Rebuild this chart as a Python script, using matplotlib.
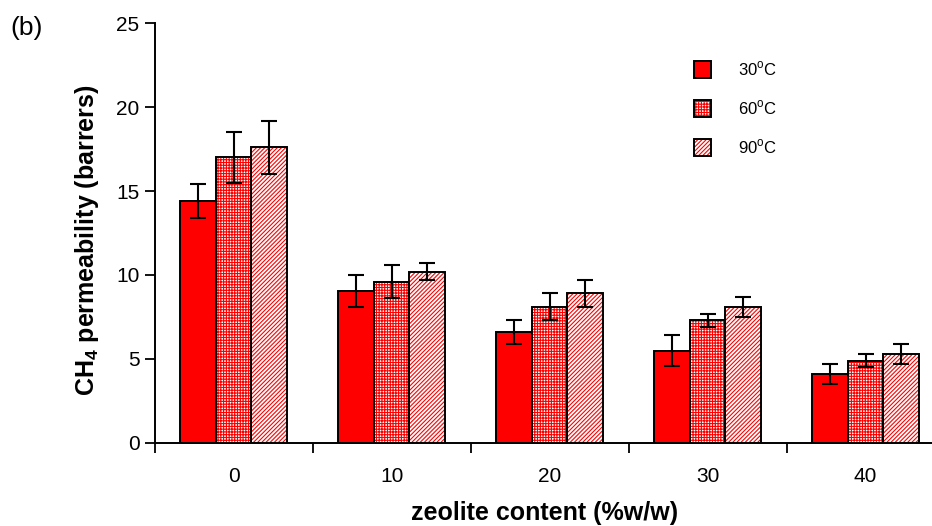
import numpy as np
import matplotlib
matplotlib.use("Agg")
import matplotlib.pyplot as plt
from matplotlib.patches import Patch
from matplotlib.legend_handler import HandlerTuple

plt.rcParams["font.family"] = ["Liberation Sans", "DejaVu Sans"]
plt.rcParams["mathtext.fontset"] = "custom"
plt.rcParams["mathtext.rm"] = "Liberation Sans"
plt.rcParams["mathtext.bf"] = "Liberation Sans:bold"
plt.rcParams["hatch.linewidth"] = 0.8

# CH4 permeability vs zeolite loading at three temperatures
zeolite = ["0", "10", "20", "30", "40"]
temps = ["30$^\\mathrm{o}$C", "60$^\\mathrm{o}$C", "90$^\\mathrm{o}$C"]

perm_30 = [14.4, 9.05, 6.6, 5.5, 4.1]
perm_60 = [17.0, 9.6, 8.1, 7.3, 4.9]
perm_90 = [17.6, 10.2, 8.9, 8.1, 5.3]

err_30 = [1.0, 0.97, 0.7, 0.9, 0.6]
err_60 = [1.5, 1.0, 0.8, 0.4, 0.4]
err_90 = [1.6, 0.5, 0.8, 0.6, 0.6]

fig = plt.figure(figsize=(9.32, 5.26), dpi=100)
ax = fig.add_axes([0.166, 0.158, 0.834, 0.798])

x = np.arange(len(zeolite))
w = 0.225

series = [
    (perm_30, err_30, -w, None),
    (perm_60, err_60, 0.0, "++++++"),
    (perm_90, err_90, w, "////////"),
]

handles = []
for (vals, errs, off, hatch), lab in zip(series, temps):
    if hatch is None:
        ax.bar(x + off, vals, w, color="red", edgecolor="black", linewidth=1.4, zorder=2)
        handles.append(Patch(facecolor="red", edgecolor="black", linewidth=1.4))
    else:
        # hatch drawn in red on white, outline added on top in black
        ax.bar(x + off, vals, w, color="white", edgecolor="red", hatch=hatch, linewidth=0, zorder=2)
        ax.bar(x + off, vals, w, facecolor="none", edgecolor="black", linewidth=1.4, zorder=3)
        handles.append((Patch(facecolor="white", edgecolor="red", hatch=hatch, linewidth=0),
                        Patch(facecolor="none", edgecolor="black", linewidth=1.4)))
    ax.errorbar(x + off, vals, yerr=errs, fmt="none", ecolor="black",
                elinewidth=1.5, capsize=6, capthick=1.5, zorder=4)

ax.set_xlim(-0.5, 4.42)
ax.set_ylim(0, 25)
ax.set_yticks([0, 5, 10, 15, 20, 25])

# ticks sit between the groups, labels at group centres
ax.set_xticks([-0.5, 0.5, 1.5, 2.5, 3.5])
ax.set_xticklabels([])
ax.set_xticks(x, minor=True)
ax.set_xticklabels(zeolite, minor=True)
ax.tick_params(axis="x", which="minor", length=0, pad=17, labelsize=15)
ax.tick_params(axis="x", which="major", length=7, width=1.3, direction="out")
ax.tick_params(axis="y", length=7, width=1.3, direction="out", labelsize=15, pad=4)

for s in ["top", "right"]:
    ax.spines[s].set_visible(False)
for s in ["left", "bottom"]:
    ax.spines[s].set_linewidth(1.4)

ax.legend(handles, temps, handler_map={tuple: HandlerTuple(ndivide=1, pad=0)},
          loc="upper left", bbox_to_anchor=(0.675, 0.95),
          frameon=False, fontsize=12, handlelength=1.0, handleheight=1.2,
          labelspacing=1.22, handletextpad=1.6)

fig.text(87 / 932, 1 - 240 / 526, "CH$_\\mathbf{4}$ permeability (barrers)",
         rotation=90, ha="center", va="center", fontsize=18, fontweight="bold")
fig.text(545 / 932, 1 - 513 / 526, "zeolite content (%w/w)",
         ha="center", va="center", fontsize=18, fontweight="bold")
fig.text(27 / 932, 1 - 28 / 526, "(b)", ha="center", va="center", fontsize=19)

fig.savefig("out.png", dpi=100)
